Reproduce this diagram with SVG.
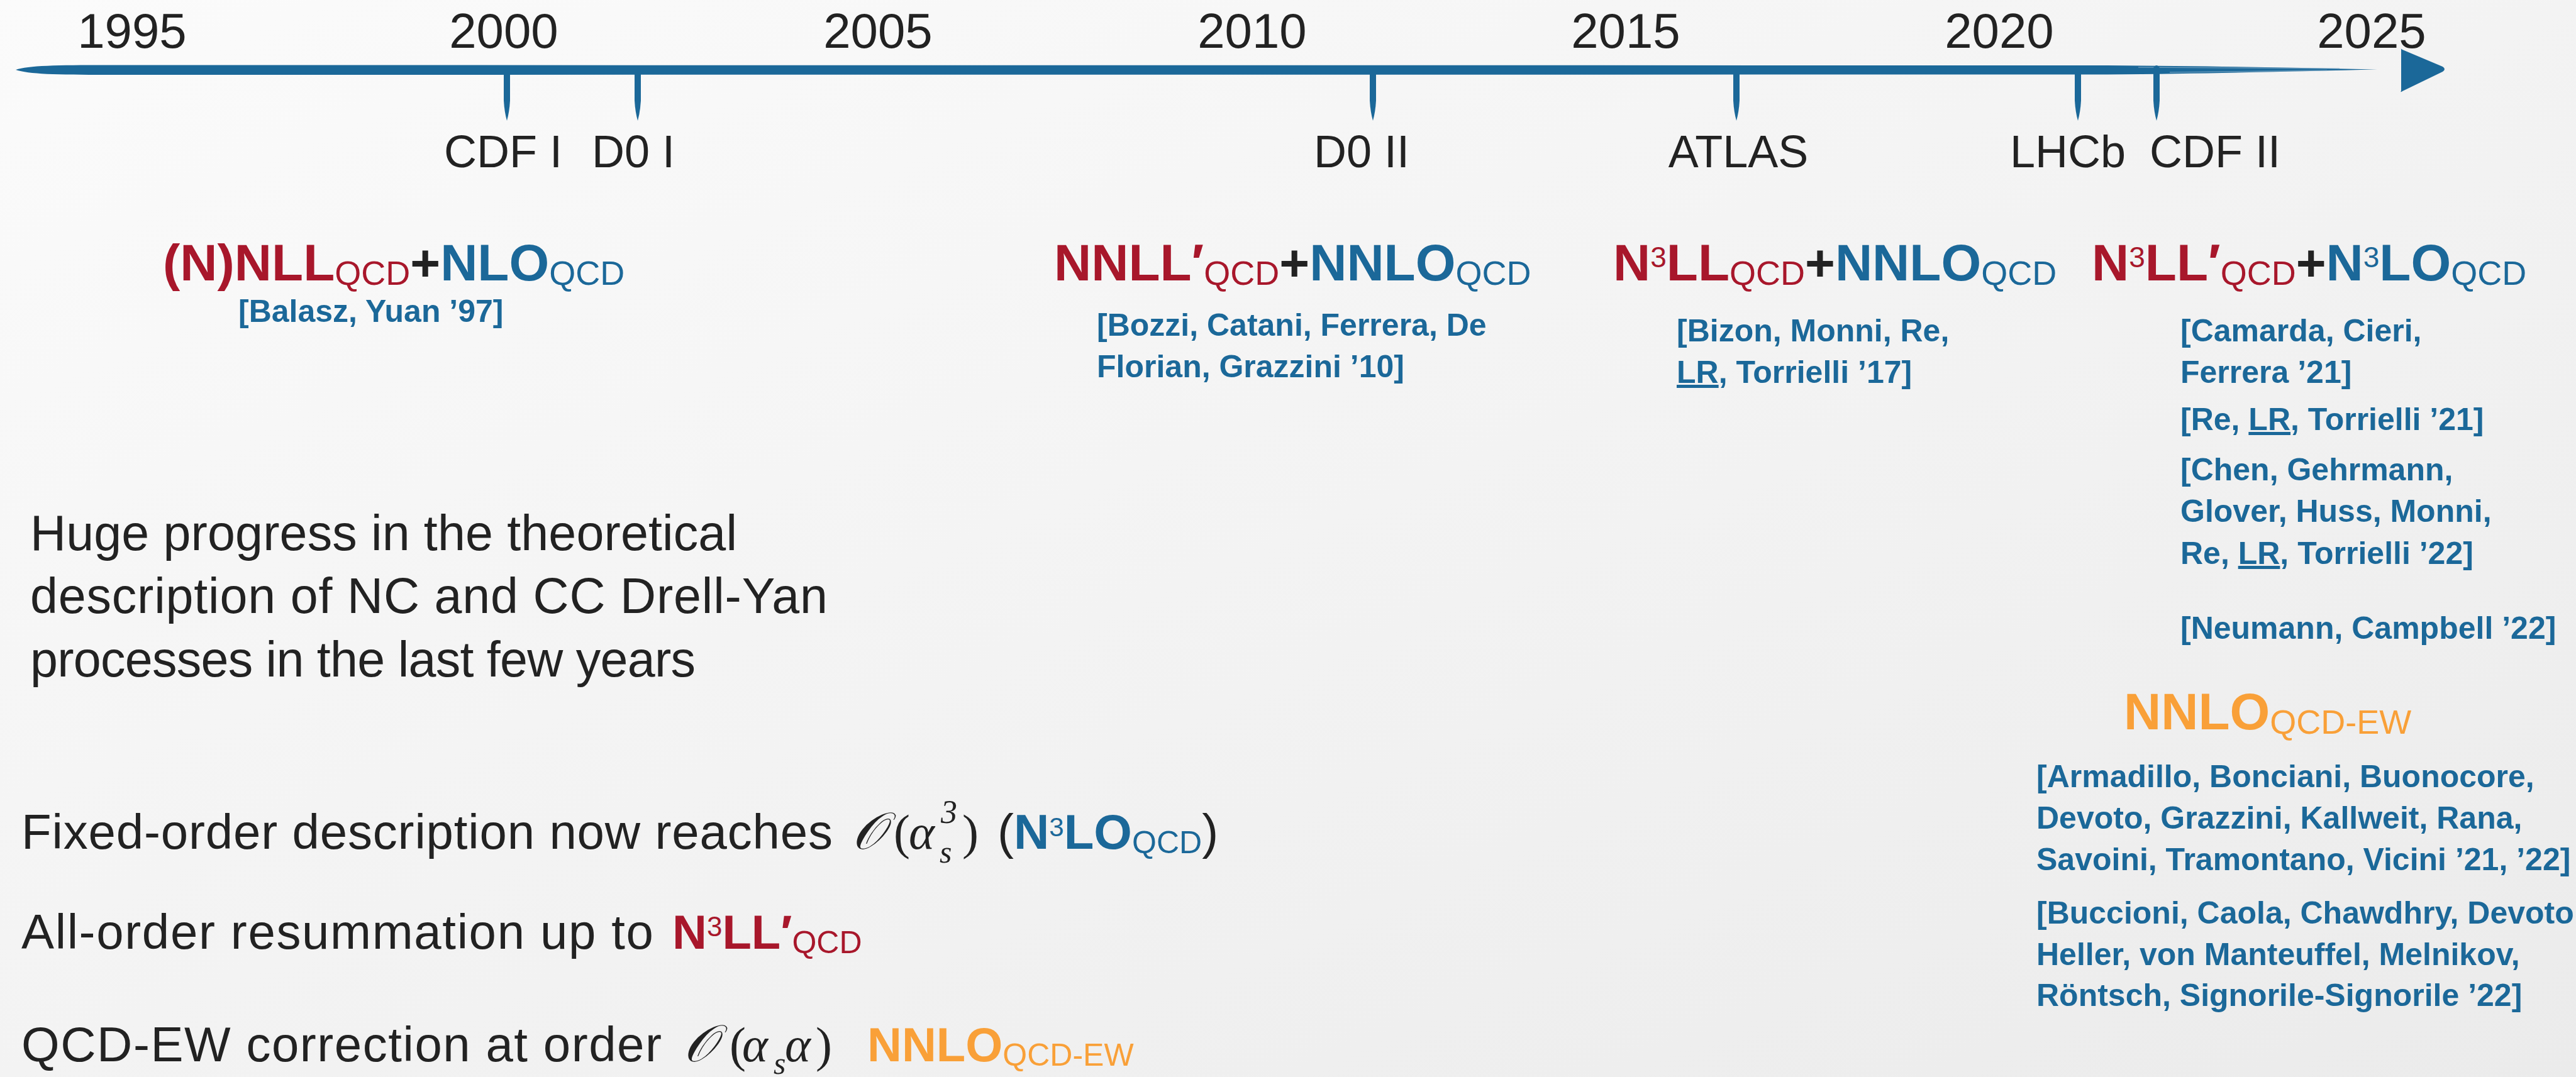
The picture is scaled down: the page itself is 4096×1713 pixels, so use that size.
<svg xmlns="http://www.w3.org/2000/svg" width="4096" height="1713" viewBox="0 0 4096 1713">
<defs>
<linearGradient id="bg" x1="0" y1="0" x2="1" y2="1">
<stop offset="0" stop-color="#fbfbfb"/>
<stop offset="1" stop-color="#ebebeb"/>
</linearGradient>
<style>
text{font-family:"Liberation Sans",Arial,sans-serif}
.yr{font-size:78px;fill:#222;text-anchor:middle}
.tk{font-size:72px;fill:#222;text-anchor:middle}
.h{font-size:82px;font-weight:bold}
.sub{font-size:54px;font-weight:normal}
.sup{font-size:46px;font-weight:normal}
.r{fill:#a8172b}
.b{fill:#1b6899}
.o{fill:#f9a038}
.k{fill:#222}
.ref{font-size:50px;font-weight:bold;fill:#1b6899}
.u{text-decoration:underline}
.body{font-size:79px;fill:#222}
.ln{font-size:78px;fill:#222}
.mo{font-family:"DejaVu Serif","DejaVu Sans",serif;font-size:82px;font-style:italic}
.mi{font-family:"Liberation Serif",serif;font-style:italic}
.mp{font-family:"Liberation Serif",serif}
.tick{fill:#1b6899}
</style>
</defs>
<rect width="4096" height="1713" fill="url(#bg)"/>

<g id="axis">
<path d="M25,111 C45,104 90,103.5 170,103.5 L3350,104 C3520,105 3660,108 3780,110.5 C3660,113 3520,117 3350,118.5 L170,119 C90,119 45,118 25,111 Z" fill="#1b6899"/>
<path d="M3400,107 L3720,109" stroke="#7fa9c6" stroke-width="1.5" opacity="0.7"/>
<path d="M3450,115 L3700,112" stroke="#7fa9c6" stroke-width="1.5" opacity="0.7"/>
<path d="M3818,78 Q3816,76 3820,79 L3884,106 Q3890,110 3884,114 L3820,145 Q3816,148 3818,144 Z" fill="#1b6899"/>
</g>

<g id="years">
<text class="yr" x="210" y="76">1995</text>
<text class="yr" x="801" y="76">2000</text>
<text class="yr" x="1396" y="76">2005</text>
<text class="yr" x="1991" y="76">2010</text>
<text class="yr" x="2585" y="76">2015</text>
<text class="yr" x="3179" y="76">2020</text>
<text class="yr" x="3771" y="76">2025</text>
</g>

<g id="connectors">
<path class="tick" d="M801,112 L811,112 L811,160 Q810,178 806,192 Q802,178 801,160 Z"/>
<path class="tick" d="M1009,112 L1019,112 L1019,160 Q1018,178 1014,192 Q1010,178 1009,160 Z"/>
<path class="tick" d="M2178,112 L2188,112 L2188,160 Q2187,178 2183,192 Q2179,178 2178,160 Z"/>
<path class="tick" d="M2756,108 Q2761,100 2766,108 L2766,160 Q2765,178 2761,192 Q2757,178 2756,160 Z"/>
<path class="tick" d="M3299,108 Q3304,100 3309,108 L3309,160 Q3308,178 3304,192 Q3300,178 3299,160 Z"/>
<path class="tick" d="M3424,108 Q3429,100 3434,108 L3434,160 Q3433,178 3429,192 Q3425,178 3424,160 Z"/>
</g>

<g id="experiments">
<text class="tk" x="800" y="266">CDF I</text>
<text class="tk" x="1007" y="266">D0 I</text>
<text class="tk" x="2165" y="266">D0 II</text>
<text class="tk" x="2764" y="266">ATLAS</text>
<text class="tk" x="3288" y="266">LHCb</text>
<text class="tk" x="3522" y="266">CDF II</text>
</g>

<g id="node-1997">
<text class="h" x="259" y="446"><tspan class="r">(N)NLL</tspan><tspan class="r sub" dy="7">QCD</tspan><tspan class="k" dy="-7">+</tspan><tspan class="b">NLO</tspan><tspan class="b sub" dy="7">QCD</tspan></text>
<text class="ref" x="379" y="512">[Balasz, Yuan ’97]</text>
</g>

<g id="node-2010">
<text class="h" x="1676" y="446"><tspan class="r">NNLL′</tspan><tspan class="r sub" dy="7">QCD</tspan><tspan class="k" dy="-7">+</tspan><tspan class="b">NNLO</tspan><tspan class="b sub" dy="7">QCD</tspan></text>
<text class="ref" x="1744" y="534">[Bozzi, Catani, Ferrera, De</text>
<text class="ref" x="1744" y="600">Florian, Grazzini ’10]</text>
</g>

<g id="node-2017">
<text class="h" x="2565" y="446"><tspan class="r">N</tspan><tspan class="r sup" dy="-21">3</tspan><tspan class="r" dy="21">LL</tspan><tspan class="r sub" dy="7">QCD</tspan><tspan class="k" dy="-7">+</tspan><tspan class="b">NNLO</tspan><tspan class="b sub" dy="7">QCD</tspan></text>
<text class="ref" x="2666" y="543">[Bizon, Monni, Re,</text>
<text class="ref" x="2666" y="609"><tspan class="u">LR</tspan>, Torrielli ’17]</text>
</g>

<g id="node-2022">
<text class="h" x="3326" y="446"><tspan class="r">N</tspan><tspan class="r sup" dy="-21">3</tspan><tspan class="r" dy="21">LL′</tspan><tspan class="r sub" dy="7">QCD</tspan><tspan class="k" dy="-7">+</tspan><tspan class="b">N</tspan><tspan class="b sup" dy="-21">3</tspan><tspan class="b" dy="21">LO</tspan><tspan class="b sub" dy="7">QCD</tspan></text>
<text class="ref" x="3467" y="543">[Camarda, Cieri,</text>
<text class="ref" x="3467" y="609">Ferrera ’21]</text>
<text class="ref" x="3467" y="684">[Re, <tspan class="u">LR</tspan>, Torrielli ’21]</text>
<text class="ref" x="3467" y="764">[Chen, Gehrmann,</text>
<text class="ref" x="3467" y="830">Glover, Huss, Monni,</text>
<text class="ref" x="3467" y="897">Re, <tspan class="u">LR</tspan>, Torrielli ’22]</text>
<text class="ref" x="3467" y="1016">[Neumann, Campbell ’22]</text>
</g>

<g id="node-qcdew">
<text class="h" x="3377" y="1160"><tspan class="o">NNLO</tspan><tspan class="o sub" dy="7">QCD-EW</tspan></text>
<text class="ref" x="3238" y="1252">[Armadillo, Bonciani, Buonocore,</text>
<text class="ref" x="3238" y="1318">Devoto, Grazzini, Kallweit, Rana,</text>
<text class="ref" x="3238" y="1384">Savoini, Tramontano, Vicini ’21, ’22]</text>
<text class="ref" x="3238" y="1469">[Buccioni, Caola, Chawdhry, Devoto,</text>
<text class="ref" x="3238" y="1535">Heller, von Manteuffel, Melnikov,</text>
<text class="ref" x="3238" y="1600">Röntsch, Signorile-Signorile ’22]</text>
</g>

<g id="summary">
<text class="body" x="48" y="875" textLength="1124" lengthAdjust="spacing">Huge progress in the theoretical</text>
<text class="body" x="48" y="975" textLength="1268" lengthAdjust="spacing">description of NC and CC Drell-Yan</text>
<text class="body" x="48" y="1076" textLength="1058" lengthAdjust="spacing">processes in the last few years</text>
</g>

<g id="fixed-order">
<text class="ln" x="34" y="1350" textLength="1290" lengthAdjust="spacing">Fixed-order description now reaches</text>
<text class="ln" x="1355" y="1350"><tspan class="mo">𝒪</tspan><tspan class="mp" x="1421">(</tspan><tspan class="mi" x="1445">α</tspan><tspan class="mi" x="1496" y="1309" font-size="52">3</tspan><tspan class="mi" x="1494" y="1372" font-size="50">s</tspan><tspan class="mp" x="1530" y="1350">)</tspan><tspan x="1586">(</tspan><tspan class="b" font-weight="bold">N</tspan><tspan class="b" font-size="42" dy="-20">3</tspan><tspan class="b" font-weight="bold" dy="20">LO</tspan><tspan class="b" font-size="50" dy="7">QCD</tspan><tspan dy="-7">)</tspan></text>
</g>

<g id="resummation">
<text class="ln" x="34" y="1509" textLength="1005" lengthAdjust="spacing">All-order resummation up to</text>
<text class="ln" x="1069" y="1509"><tspan class="r" font-weight="bold" font-size="76">N</tspan><tspan class="r" font-size="44" dy="-20">3</tspan><tspan class="r" font-weight="bold" font-size="76" dy="20">LL′</tspan><tspan class="r" font-size="50" dy="7">QCD</tspan></text>
</g>

<g id="qcd-ew">
<text class="ln" x="34" y="1688" textLength="1018" lengthAdjust="spacing">QCD-EW correction at order</text>
<text class="ln" x="1087" y="1688"><tspan class="mo">𝒪</tspan><tspan class="mp" x="1160">(</tspan><tspan class="mi" x="1180">α</tspan><tspan class="mi" x="1230" y="1708" font-size="50">s</tspan><tspan class="mi" x="1248" y="1688">α</tspan><tspan class="mp" x="1297">)</tspan><tspan class="o" font-weight="bold" font-size="76" x="1379">NNLO</tspan><tspan class="o" font-size="50" dy="7">QCD-EW</tspan></text>
</g>
</svg>
